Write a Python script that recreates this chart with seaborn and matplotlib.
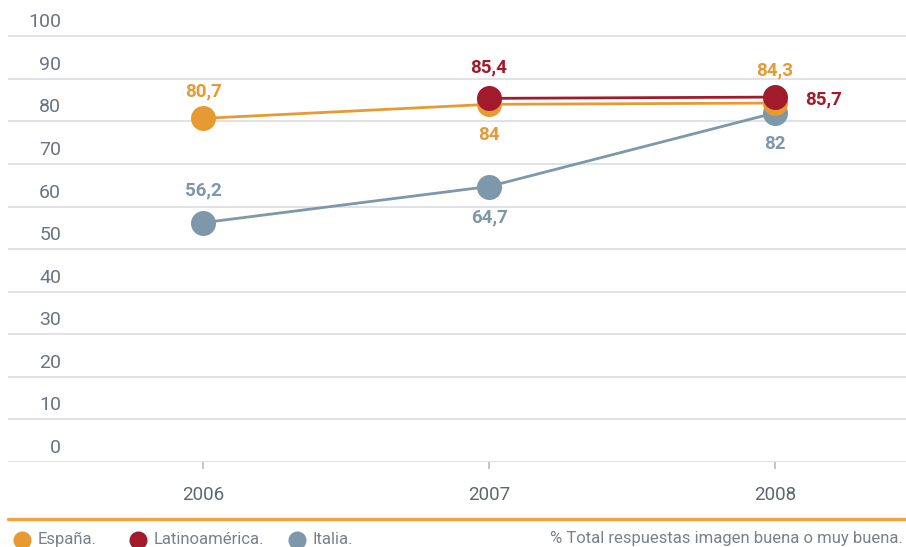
import pandas as pd
import seaborn as sns
import matplotlib.pyplot as plt
from matplotlib.lines import Line2D

# data
years = [2006, 2007, 2008]
espana = [80.7, 84.0, 84.3]
latam = [None, 85.4, 85.7]
italia = [56.2, 64.7, 82.0]
series_names = ["España", "Latinoamérica", "Italia"]
y_ticks = [0, 10, 20, 30, 40, 50, 60, 70, 80, 90, 100]
footnote = "% Total respuestas imagen buena o muy buena."

colors = {"España": "#E89A32", "Latinoamérica": "#A11B2C", "Italia": "#7D97AB"}

# long form table for seaborn
df = pd.DataFrame({
    "year": years * 3,
    "value": espana + latam + italia,
    "serie": [s for s in series_names for _ in years],
}).dropna()

sns.set_style("white")
plt.rcParams["font.family"] = ["Roboto", "DejaVu Sans"]

fig = plt.figure(figsize=(9.06, 5.47), dpi=100)
ax = fig.add_axes([8 / 906, (547 - 462) / 547, 898 / 906, 462 / 547])

# draw order: Italia below, Latinoamérica on top
sns.lineplot(data=df, x="year", y="value", hue="serie",
             hue_order=["Italia", "España", "Latinoamérica"],
             palette=colors, marker="o", markersize=18, markeredgewidth=0,
             linewidth=2.0, legend=False, ax=ax, zorder=3)

ax.set_xlim(2005.318, 2008.458)
ax.set_ylim(0, 108.5)
ax.set_xticks(years)
ax.set_yticks(y_ticks)
ax.set_yticklabels([])
ax.set_xlabel("")
ax.set_ylabel("")
ax.grid(axis="y", color="#DADDE1", linewidth=1.2)
ax.grid(axis="x", visible=False)
for sp in ax.spines.values():
    sp.set_visible(False)
ax.tick_params(axis="x", length=5, width=1.2, color="#B9BEC4", pad=12,
               labelsize=13.5, labelcolor="#5F6670", bottom=True)
ax.tick_params(axis="y", length=0)

# y labels sit above their gridlines, inside the plot
for v in y_ticks:
    ax.annotate(str(v), xy=(0, v), xycoords=("axes fraction", "data"),
                xytext=(53, 5), textcoords="offset pixels", ha="right", va="bottom",
                fontsize=14, color="#6B7280")

# value labels (text, offset in pixels)
labels = {
    "España": [("80,7", 0, 27), ("84", 0, -31), ("84,3", 0, 33)],
    "Latinoamérica": [None, ("85,4", 0, 31), ("85,7", 48, -2)],
    "Italia": [("56,2", 0, 32), ("64,7", 0, -31), ("82", 0, -31)],
}
values = {"España": espana, "Latinoamérica": latam, "Italia": italia}
for name in series_names:
    for yr, val, lab in zip(years, values[name], labels[name]):
        if lab is None:
            continue
        txt, dx, dy = lab
        ax.annotate(txt, xy=(yr, val), xytext=(dx, dy), textcoords="offset pixels",
                    ha="center", va="center", fontsize=13.5, fontweight="bold",
                    color=colors[name])

# orange separator and legend row at the bottom
fig.add_artist(Line2D([8 / 906, 1], [1 - 519 / 547] * 2, transform=fig.transFigure,
                      color="#F0A23C", linewidth=2.4))
legend_items = [("España.", 22), ("Latinoamérica.", 138), ("Italia.", 297)]
for (txt, x), name in zip(legend_items, series_names):
    fig.add_artist(Line2D([x / 906], [1 - 540 / 547], transform=fig.transFigure,
                          marker="o", markersize=13, markeredgewidth=0,
                          color=colors[name], linestyle="none"))
    fig.text((x + 16) / 906, 1 - 539 / 547, txt, ha="left", va="center",
             fontsize=12, color="#7A8089")
fig.text(903 / 906, 1 - 539 / 547, footnote, ha="right", va="center",
         fontsize=12, color="#7A8089")

fig.savefig("out.png", dpi=100)
